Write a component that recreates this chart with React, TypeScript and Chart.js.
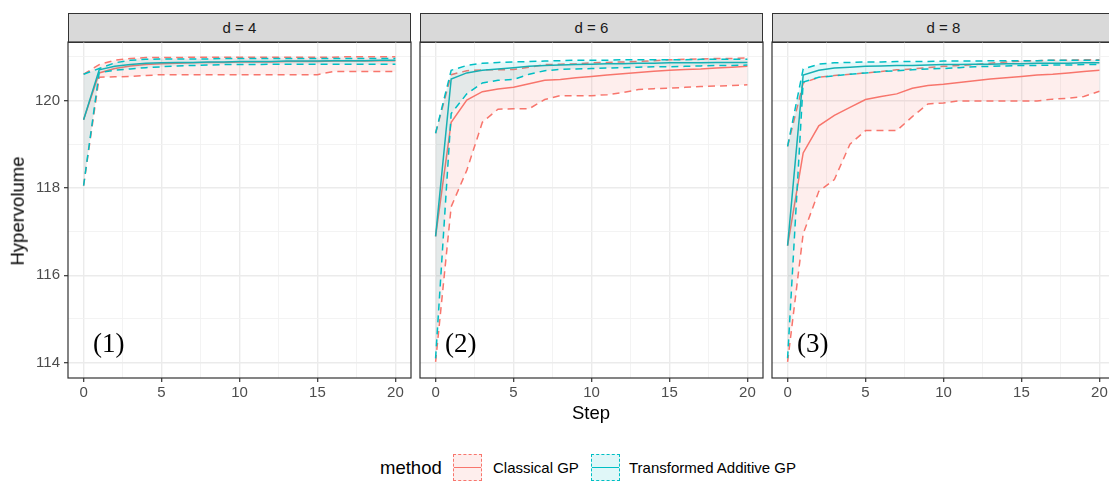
import React, { useEffect, useRef } from "react";
import { Chart, registerables } from "chart.js";

Chart.register(...registerables);

// ---------- data ----------
const STEPS = [0, 1, 2, 3, 4, 5, 6, 7, 8, 9, 10, 11, 12, 13, 14, 15, 16, 17, 18, 19, 20];
const PANEL_TITLES = ["d = 4", "d = 6", "d = 8"];
const PANEL_TAGS = ["(1)", "(2)", "(3)"];
const X_MAJOR = [0, 5, 10, 15, 20];
const X_MINOR = [2.5, 7.5, 12.5, 17.5];
const Y_MAJOR = [114, 116, 118, 120];
const Y_MINOR = [115, 117, 119, 121];
const X_LIMITS = [-1, 21];
const Y_LIMITS = [113.65, 121.337];
const METHODS = ["Classical GP", "Transformed Additive GP"];

// d = 4
const CLASSICAL_MEAN_D4 = [119.56, 120.63, 120.73, 120.79, 120.82, 120.84, 120.85, 120.86, 120.87, 120.87, 120.88, 120.88, 120.88, 120.89, 120.89, 120.89, 120.9, 120.9, 120.9, 120.91, 120.91];
const CLASSICAL_UPPER_D4 = [120.6, 120.82, 120.92, 120.96, 120.98, 120.98, 120.98, 120.99, 120.99, 120.99, 120.99, 120.99, 120.99, 120.99, 120.99, 120.99, 120.99, 121.0, 121.0, 121.0, 121.0];
const CLASSICAL_LOWER_D4 = [118.05, 120.53, 120.54, 120.55, 120.57, 120.59, 120.59, 120.59, 120.59, 120.59, 120.59, 120.59, 120.59, 120.59, 120.59, 120.59, 120.66, 120.66, 120.66, 120.66, 120.66];
const ADDITIVE_MEAN_D4 = [119.56, 120.7, 120.78, 120.82, 120.85, 120.86, 120.87, 120.87, 120.88, 120.88, 120.89, 120.89, 120.89, 120.9, 120.9, 120.9, 120.91, 120.91, 120.91, 120.92, 120.92];
const ADDITIVE_UPPER_D4 = [120.6, 120.73, 120.86, 120.92, 120.94, 120.95, 120.95, 120.95, 120.95, 120.96, 120.96, 120.96, 120.96, 120.96, 120.96, 120.96, 120.96, 120.96, 120.96, 120.96, 120.96];
const ADDITIVE_LOWER_D4 = [118.05, 120.64, 120.69, 120.72, 120.75, 120.77, 120.79, 120.8, 120.81, 120.82, 120.82, 120.82, 120.83, 120.83, 120.83, 120.83, 120.83, 120.83, 120.83, 120.83, 120.83];

// d = 6
const CLASSICAL_MEAN_D6 = [116.89, 119.5, 120.01, 120.2, 120.26, 120.3, 120.38, 120.46, 120.48, 120.52, 120.55, 120.58, 120.61, 120.64, 120.67, 120.69, 120.71, 120.72, 120.74, 120.76, 120.78];
const CLASSICAL_UPPER_D6 = [119.25, 120.59, 120.68, 120.7, 120.7, 120.71, 120.76, 120.82, 120.83, 120.84, 120.86, 120.87, 120.88, 120.89, 120.91, 120.93, 120.94, 120.95, 120.96, 120.96, 120.97];
const CLASSICAL_LOWER_D6 = [114.02, 117.57, 118.4, 119.5, 119.8, 119.81, 119.81, 120.02, 120.11, 120.11, 120.11, 120.13, 120.18, 120.25, 120.27, 120.28, 120.3, 120.32, 120.33, 120.34, 120.36];
const ADDITIVE_MEAN_D6 = [116.89, 120.49, 120.63, 120.69, 120.72, 120.75, 120.78, 120.8, 120.81, 120.82, 120.83, 120.84, 120.84, 120.85, 120.85, 120.86, 120.86, 120.86, 120.87, 120.87, 120.87];
const ADDITIVE_UPPER_D6 = [119.25, 120.69, 120.8, 120.85, 120.87, 120.88, 120.89, 120.9, 120.91, 120.92, 120.92, 120.92, 120.93, 120.93, 120.93, 120.93, 120.93, 120.94, 120.94, 120.94, 120.94];
const ADDITIVE_LOWER_D6 = [114.1, 119.7, 120.15, 120.4, 120.46, 120.48, 120.6, 120.68, 120.71, 120.72, 120.73, 120.74, 120.75, 120.76, 120.77, 120.77, 120.78, 120.79, 120.8, 120.8, 120.81];

// d = 8
const CLASSICAL_MEAN_D8 = [116.68, 118.8, 119.42, 119.66, 119.84, 120.02, 120.09, 120.15, 120.28, 120.34, 120.37, 120.41, 120.45, 120.49, 120.52, 120.55, 120.58, 120.6, 120.63, 120.66, 120.69];
const CLASSICAL_UPPER_D8 = [118.95, 120.4, 120.53, 120.57, 120.6, 120.63, 120.66, 120.7, 120.72, 120.75, 120.78, 120.8, 120.82, 120.85, 120.88, 120.9, 120.91, 120.92, 120.92, 120.93, 120.93];
const CLASSICAL_LOWER_D8 = [114.02, 116.95, 117.92, 118.19, 119.0, 119.31, 119.31, 119.31, 119.63, 119.92, 119.94, 119.99, 119.99, 119.99, 119.99, 119.99, 119.99, 120.03, 120.05, 120.09, 120.21];
const ADDITIVE_MEAN_D8 = [116.68, 120.58, 120.69, 120.74, 120.76, 120.78, 120.79, 120.8, 120.8, 120.81, 120.82, 120.82, 120.83, 120.83, 120.84, 120.84, 120.85, 120.85, 120.85, 120.86, 120.86];
const ADDITIVE_UPPER_D8 = [118.95, 120.72, 120.83, 120.86, 120.87, 120.88, 120.88, 120.89, 120.89, 120.89, 120.9, 120.9, 120.9, 120.91, 120.91, 120.91, 120.91, 120.92, 120.92, 120.92, 120.92];
const ADDITIVE_LOWER_D8 = [114.1, 120.42, 120.53, 120.56, 120.6, 120.63, 120.66, 120.68, 120.7, 120.72, 120.73, 120.75, 120.77, 120.78, 120.79, 120.8, 120.8, 120.81, 120.81, 120.82, 120.82];

const TAG_POSITION = [0.6, 114.4];

const PANEL_DATA = [
  { cm: CLASSICAL_MEAN_D4, cu: CLASSICAL_UPPER_D4, cl: CLASSICAL_LOWER_D4, am: ADDITIVE_MEAN_D4, au: ADDITIVE_UPPER_D4, al: ADDITIVE_LOWER_D4 },
  { cm: CLASSICAL_MEAN_D6, cu: CLASSICAL_UPPER_D6, cl: CLASSICAL_LOWER_D6, am: ADDITIVE_MEAN_D6, au: ADDITIVE_UPPER_D6, al: ADDITIVE_LOWER_D6 },
  { cm: CLASSICAL_MEAN_D8, cu: CLASSICAL_UPPER_D8, cl: CLASSICAL_LOWER_D8, am: ADDITIVE_MEAN_D8, au: ADDITIVE_UPPER_D8, al: ADDITIVE_LOWER_D8 },
];

// ---------- styling ----------
const RED = "#F8766D";
const CYAN = "#00BFC4";
const RED_FILL = "rgba(248,118,109,0.12)";
const CYAN_FILL = "rgba(0,191,196,0.1)";
const SANS = '"Liberation Sans", Arial, Helvetica, sans-serif';

const PANEL_LEFT = [68, 420, 772];
const PANEL_TOP = 42;
const PANEL_W = 343;
const PANEL_H = 336;
const PAD = 6;
const X_AXIS_H = 30;
const Y_AXIS_W = 68;

const panelDecor = {
  id: "panelDecor",
  afterDatasetsDraw(chart: any, _args: any, opts: any) {
    const { ctx, chartArea: a, scales } = chart;
    ctx.save();
    ctx.strokeStyle = "#333333";
    ctx.lineWidth = 1.2;
    ctx.strokeRect(a.left, a.top, a.right - a.left, a.bottom - a.top);
    ctx.font = '27px "Liberation Serif", "Times New Roman", serif';
    ctx.fillStyle = "#000000";
    ctx.textAlign = "left";
    ctx.textBaseline = "middle";
    ctx.fillText(opts.tag, scales.x.getPixelForValue(TAG_POSITION[0]), scales.y.getPixelForValue(TAG_POSITION[1]));
    ctx.restore();
  },
};

const isIn = (arr: number[], v: number) => arr.some((a) => Math.abs(a - v) < 1e-6);

function line(values: number[], color: string, dashed: boolean, extra: any = {}) {
  return {
    data: STEPS.map((x, i) => ({ x, y: values[i] })),
    borderColor: color,
    borderWidth: 1.5,
    borderDash: dashed ? [7, 5] : [],
    pointRadius: 0,
    tension: 0,
    fill: false,
    ...extra,
  };
}

function Panel({ index }: { index: number }) {
  const ref = useRef<HTMLCanvasElement | null>(null);
  const first = index === 0;
  const padL = first ? 0 : PAD;
  const yW = first ? Y_AXIS_W : 0;
  const width = padL + yW + PANEL_W + PAD;
  const height = PAD + PANEL_H + X_AXIS_H;
  const left = PANEL_LEFT[index] - yW - padL;

  useEffect(() => {
    const d = PANEL_DATA[index];
    const chart = new Chart(ref.current as HTMLCanvasElement, {
      type: "line",
      data: {
        datasets: [
          line(d.au, CYAN, true, { fill: 1, backgroundColor: CYAN_FILL }),
          line(d.al, CYAN, true),
          line(d.am, "#1AAFB2", false),
          line(d.cu, RED, true, { fill: 4, backgroundColor: RED_FILL }),
          line(d.cl, RED, true),
          line(d.cm, RED, false),
        ] as any,
      },
      options: {
        animation: false,
        responsive: false,
        devicePixelRatio: 1,
        layout: { padding: { left: padL, right: PAD, top: PAD, bottom: 0 } },
        plugins: {
          legend: { display: false },
          tooltip: { enabled: false },
          panelDecor: { tag: PANEL_TAGS[index] },
        } as any,
        scales: {
          x: {
            type: "linear",
            min: X_LIMITS[0],
            max: X_LIMITS[1],
            afterBuildTicks: (s: any) => {
              s.ticks = [...X_MAJOR, ...X_MINOR].sort((a, b) => a - b).map((v) => ({ value: v }));
            },
            afterFit: (s: any) => {
              s.height = X_AXIS_H;
              s.paddingLeft = 0;
              s.paddingRight = 0;
              s.paddingTop = 0;
              s.paddingBottom = 0;
            },
            border: { display: false },
            grid: {
              color: (c: any) => (isIn(X_MAJOR, c.tick?.value) ? "#EBEBEB" : "#F2F2F2"),
              lineWidth: (c: any) => (isIn(X_MAJOR, c.tick?.value) ? 1.4 : 0.9),
              tickLength: 4,
              tickColor: (c: any) => (isIn(X_MAJOR, c.tick?.value) ? "#333333" : "rgba(0,0,0,0)"),
              tickWidth: 1.2,
            },
            ticks: {
              autoSkip: false,
              maxRotation: 0,
              padding: 2,
              color: "#4D4D4D",
              font: { family: SANS, size: 15 },
              callback: (v: any) => (isIn(X_MAJOR, Number(v)) ? String(v) : ""),
            },
          } as any,
          y: {
            type: "linear",
            min: Y_LIMITS[0],
            max: Y_LIMITS[1],
            afterBuildTicks: (s: any) => {
              s.ticks = [...Y_MAJOR, ...Y_MINOR].sort((a, b) => a - b).map((v) => ({ value: v }));
            },
            afterFit: (s: any) => {
              s.width = yW;
              s.paddingLeft = 0;
              s.paddingRight = 0;
              s.paddingTop = 0;
              s.paddingBottom = 0;
            },
            border: { display: false },
            grid: {
              color: (c: any) => (isIn(Y_MAJOR, c.tick?.value) ? "#EBEBEB" : "#F2F2F2"),
              lineWidth: (c: any) => (isIn(Y_MAJOR, c.tick?.value) ? 1.4 : 0.9),
              drawTicks: first,
              tickLength: 4,
              tickColor: (c: any) => (isIn(Y_MAJOR, c.tick?.value) ? "#333333" : "rgba(0,0,0,0)"),
              tickWidth: 1.2,
            },
            ticks: {
              display: first,
              autoSkip: false,
              padding: 4,
              color: "#4D4D4D",
              font: { family: SANS, size: 15 },
              callback: (v: any) => (isIn(Y_MAJOR, Number(v)) ? String(v) : ""),
            },
          } as any,
        },
      },
      plugins: [panelDecor as any],
    });
    return () => chart.destroy();
  }, [index]);

  return (
    <>
      <div
        style={{
          position: "absolute",
          left: PANEL_LEFT[index],
          top: 13,
          width: PANEL_W,
          height: 30,
          boxSizing: "border-box",
          border: "1.2px solid #333333",
          background: "#D9D9D9",
          color: "#1A1A1A",
          fontFamily: SANS,
          fontSize: 15,
          lineHeight: "28px",
          textAlign: "center",
        }}
      >
        {PANEL_TITLES[index]}
      </div>
      <canvas
        ref={ref}
        width={width}
        height={height}
        style={{ position: "absolute", left, top: PANEL_TOP - PAD, width, height }}
      />
    </>
  );
}

function LegendKey({ color, fill, left }: { color: string; fill: string; left: number }) {
  return (
    <div
      style={{
        position: "absolute",
        left,
        top: 454,
        width: 29,
        height: 27,
        boxSizing: "border-box",
        border: `1.3px dashed ${color}`,
        background: fill,
      }}
    >
      <div style={{ position: "absolute", left: 0, right: 0, top: 12, height: 1.3, background: color }} />
    </div>
  );
}

export default function App() {
  return (
    <div
      style={{
        position: "absolute",
        left: 0,
        top: 0,
        width: 1109,
        height: 481,
        overflow: "hidden",
        background: "#FFFFFF",
        fontFamily: SANS,
      }}
    >
      {[0, 1, 2].map((i) => (
        <Panel key={i} index={i} />
      ))}
      <div
        style={{
          position: "absolute",
          left: 18,
          top: 211,
          transform: "translate(-50%, -50%) rotate(-90deg)",
          fontSize: 18.5,
          lineHeight: 1,
          whiteSpace: "nowrap",
          color: "#000",
        }}
      >
        Hypervolume
      </div>
      <div
        style={{
          position: "absolute",
          left: 591,
          top: 413,
          transform: "translate(-50%, -50%)",
          fontSize: 18.5,
          lineHeight: 1,
          whiteSpace: "nowrap",
          color: "#000",
        }}
      >
        Step
      </div>
      <div style={{ position: "absolute", left: 380, top: 456, fontSize: 18.5, lineHeight: "24px", color: "#000" }}>method</div>
      <LegendKey color={RED} fill="rgba(248,118,109,0.12)" left={453} />
      <div style={{ position: "absolute", left: 493, top: 457, fontSize: 15, lineHeight: "22px", color: "#000", whiteSpace: "nowrap" }}>
        {METHODS[0]}
      </div>
      <LegendKey color={CYAN} fill="rgba(0,191,196,0.12)" left={591} />
      <div style={{ position: "absolute", left: 629, top: 457, fontSize: 15, lineHeight: "22px", color: "#000", whiteSpace: "nowrap" }}>
        {METHODS[1]}
      </div>
    </div>
  );
}
